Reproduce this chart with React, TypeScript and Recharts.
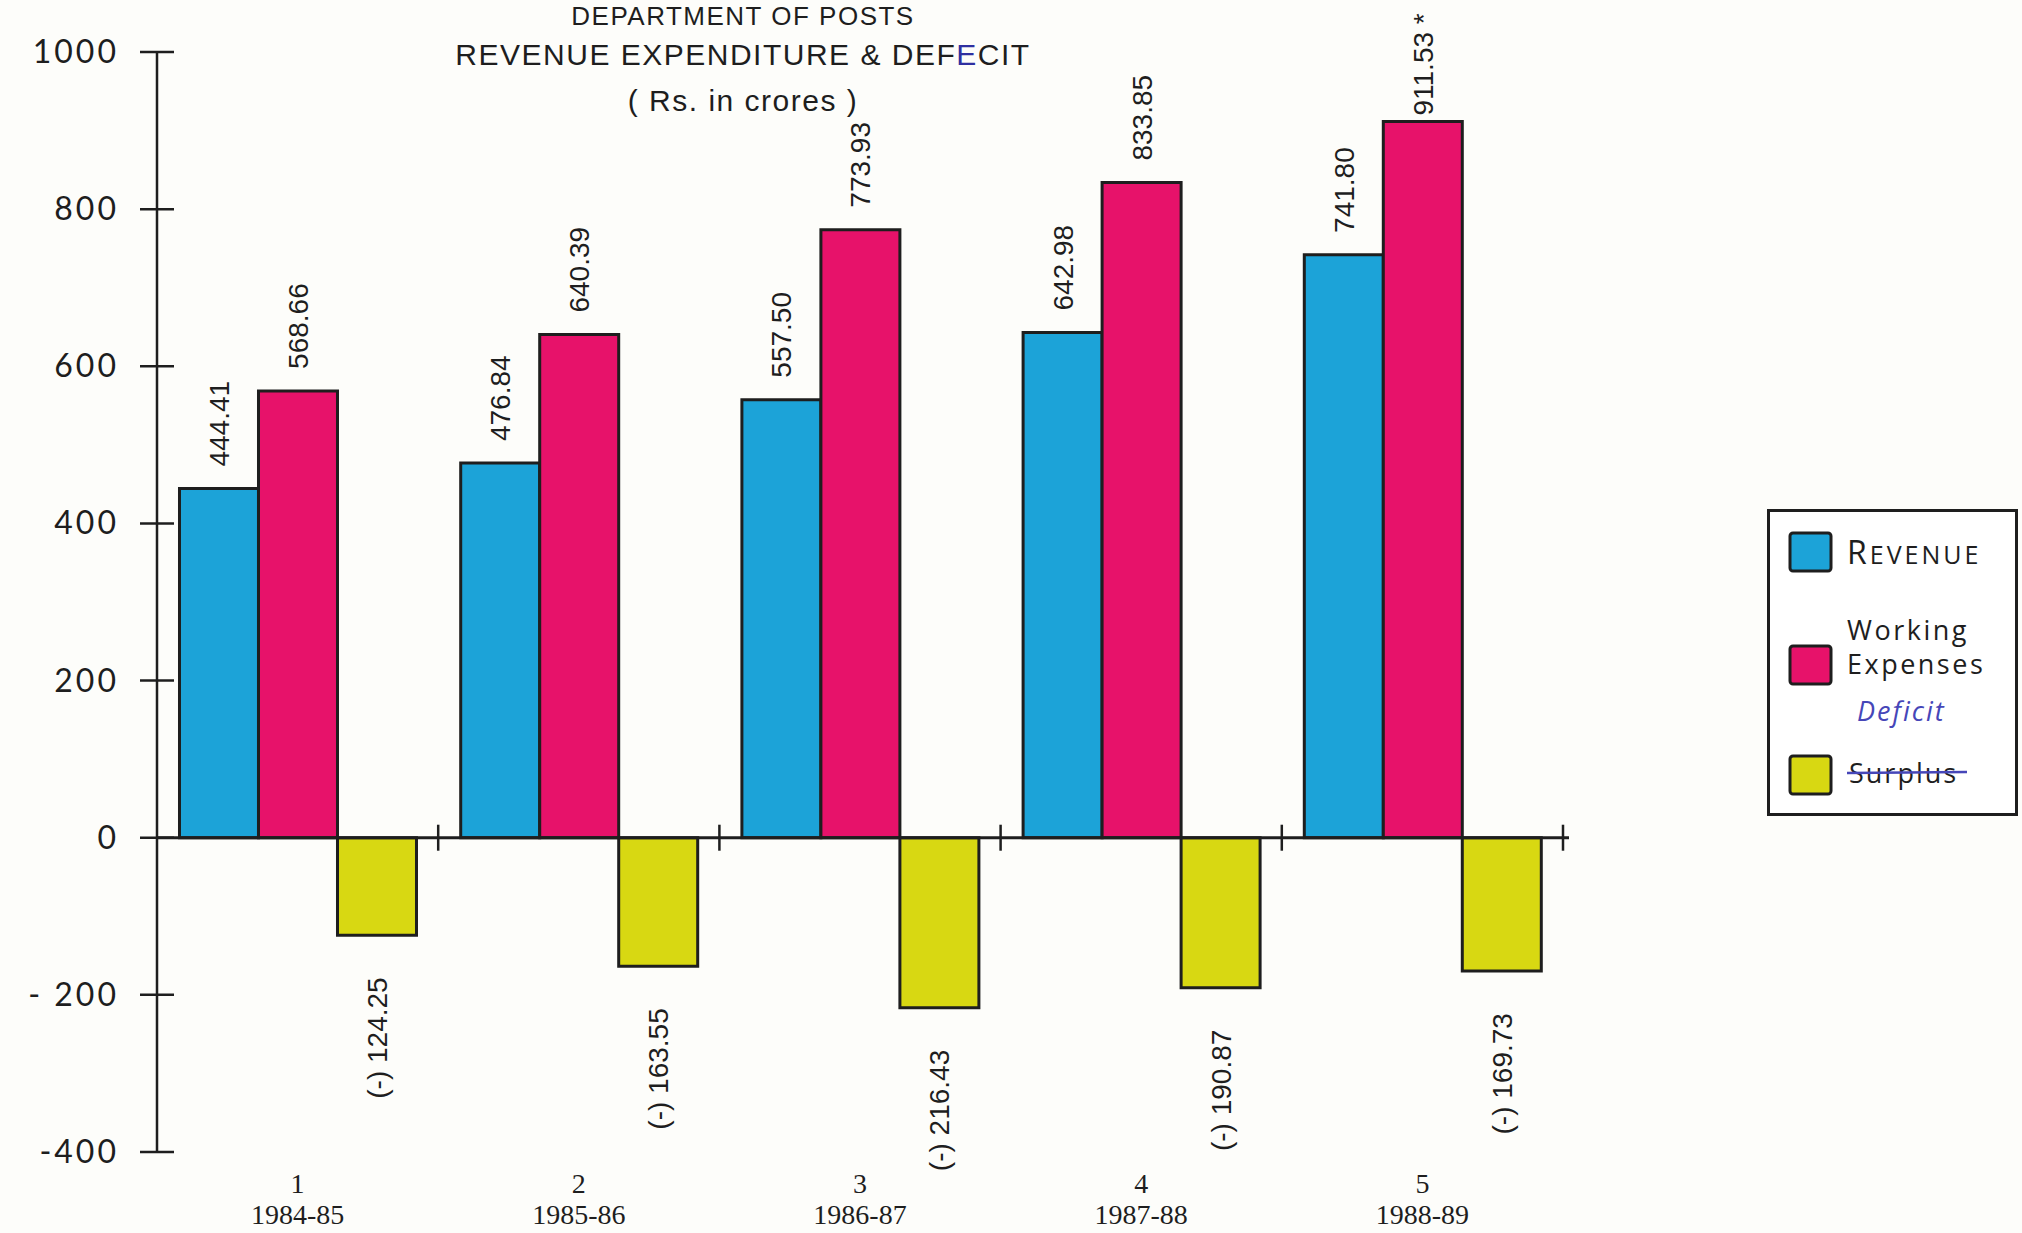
import React from "react";
import {
  BarChart,
  Bar,
  XAxis,
  YAxis,
  LabelList,
  ReferenceLine,
  Legend,
} from "recharts";

// Department of Posts - revenue, working expenses and deficit (Rs. in crores)
const periods = ["1984-85", "1985-86", "1986-87", "1987-88", "1988-89"];
const serialNos = ["1", "2", "3", "4", "5"];
const revenue = [444.41, 476.84, 557.5, 642.98, 741.8];
const workingExpenses = [568.66, 640.39, 773.93, 833.85, 911.53];
const expenseNotes = ["", "", "", "", " *"];
const deficit = [-124.25, -163.55, -216.43, -190.87, -169.73];

const yTicks = [-400, -200, 0, 200, 400, 600, 800, 1000];
const yTickLabels = ["-400", "- 200", "0", "200", "400", "600", "800", "1000"];

const BLUE = "#1ca3d8";
const PINK = "#e7126a";
const YELLOW = "#d8d812";
const INK = "#1e1e1e";
const seriesColors = [BLUE, PINK, YELLOW];

const data = periods.map((p, i) => ({
  period: p,
  serial: serialNos[i],
  revenue: revenue[i],
  expenses: workingExpenses[i],
  deficit: deficit[i],
}));

const LABEL_SIZE = 28;

function boxOf(props: any) {
  const vb = props.viewBox && props.viewBox.width !== undefined ? props.viewBox : props;
  const x = Number(vb.x), y = Number(vb.y), w = Number(vb.width), h = Number(vb.height);
  return { cx: x + w / 2, top: Math.min(y, y + h), bottom: Math.max(y, y + h) };
}

// value written upright (rotated) above a bar
function upLabel(props: any, notes?: string[]) {
  const { cx, top } = boxOf(props);
  const text = Number(props.value).toFixed(2) + (notes ? notes[props.index] || "" : "");
  const estLen = text.length * 0.5 * LABEL_SIZE;
  const gap = Math.max(6, Math.min(22, top - estLen - 4));
  const ay = top - gap;
  return (
    <text
      x={cx}
      y={ay}
      dy="0.36em"
      transform={`rotate(-90, ${cx}, ${ay})`}
      textAnchor="start"
      fontFamily="Liberation Sans"
      fontSize={LABEL_SIZE}
      fill={INK}
    >
      {text}
    </text>
  );
}

// deficit written below the yellow bar
function downLabel(props: any) {
  const { cx, bottom } = boxOf(props);
  const text = `(-)  ${Math.abs(Number(props.value)).toFixed(2)}`;
  const ay = bottom + 42;
  return (
    <text
      x={cx}
      y={ay}
      dy="0.36em"
      transform={`rotate(-90, ${cx}, ${ay})`}
      textAnchor="end"
      fontFamily="Liberation Sans"
      fontSize={LABEL_SIZE}
      fill={INK}
    >
      {text}
    </text>
  );
}

function YTick(props: any) {
  const { x, y, payload } = props;
  const label = yTickLabels[yTicks.indexOf(payload.value)];
  return (
    <g>
      <line x1={x - 17} x2={x + 17} y1={y} y2={y} stroke={INK} strokeWidth={2.5} />
      <text
        x={x - 38}
        y={y}
        dy={11}
        textAnchor="end"
        fontFamily="Lato"
        fontWeight={400}
        fontSize={32}
        letterSpacing={3}
        fill={INK}
      >
        {label}
      </text>
    </g>
  );
}

function XTick(props: any) {
  const { x, y, payload } = props;
  const row = data.find((d) => d.period === payload.value);
  return (
    <g fontFamily="Liberation Serif" fontSize={28} fill={INK}>
      <text x={x} y={y + 41} textAnchor="middle">
        {row ? row.serial : ""}
      </text>
      <text x={x} y={y + 72} textAnchor="middle">
        {payload.value}
      </text>
    </g>
  );
}

function ZeroLine(props: any) {
  const { x1, y1, x2 } = props;
  const step = (x2 - x1) / periods.length;
  return (
    <g>
      <line x1={x1} y1={y1} x2={x2 + 6} y2={y1} stroke={INK} strokeWidth={3} />
      {periods.map((p, i) => (
        <line
          key={p}
          x1={x1 + step * (i + 1)}
          x2={x1 + step * (i + 1)}
          y1={y1 - 13}
          y2={y1 + 13}
          stroke={INK}
          strokeWidth={2.5}
        />
      ))}
    </g>
  );
}

function LegendBox() {
  const sw = (i: number, y: number) => (
    <rect x={23} y={y} width={41} height={38} rx={3} fill={seriesColors[i]} stroke={INK} strokeWidth={3} />
  );
  const hand = { fontFamily: "Open Sans", fill: INK } as const;
  return (
    <svg width={251} height={307} style={{ display: "block" }}>
      <rect x={1.5} y={1.5} width={248} height={304} fill="#fff" stroke={INK} strokeWidth={3} />
      {sw(0, 24)}
      <text x={80} y={55} {...hand} fontSize={25} letterSpacing={3}>
        <tspan fontSize={32}>R</tspan>EVENUE
      </text>
      {sw(1, 137)}
      <text x={80} y={131} {...hand} fontSize={27} letterSpacing={2.5}>
        Working
      </text>
      <text x={80} y={165} {...hand} fontSize={27} letterSpacing={2.5}>
        Expenses
      </text>
      {sw(2, 247)}
      <text x={90} y={212} fontFamily="Open Sans" fontStyle="italic" fontSize={27} letterSpacing={2} fill="#4646b8">
        Deficit
      </text>
      <text x={82} y={274} {...hand} fontSize={27} letterSpacing={2}>
        Surplus
      </text>
      <line x1={80} x2={200} y1={264} y2={263} stroke="#4646b8" strokeWidth={2.5} />
    </svg>
  );
}

export default function App() {
  const titleStyle: React.CSSProperties = {
    position: "absolute",
    left: 443,
    width: 600,
    textAlign: "center",
    fontFamily: "Liberation Sans",
    fontSize: 30,
    lineHeight: "30px",
    letterSpacing: 1.5,
    color: INK,
    whiteSpace: "nowrap",
  };
  return (
    <div
      style={{
        position: "absolute",
        left: 0,
        top: 0,
        width: 2022,
        height: 1233,
        background: "#fdfdfa",
        overflow: "hidden",
      }}
    >
      <div style={{ ...titleStyle, top: 1, fontSize: 26 }}>DEPARTMENT OF POSTS</div>
      <div style={{ ...titleStyle, top: 40 }}>
        REVENUE EXPENDITURE &amp; DEF<span style={{ color: "#2f2fa0" }}>E</span>CIT
      </div>
      <div style={{ ...titleStyle, top: 86 }}>( Rs. in crores )</div>
      <BarChart
        width={2022}
        height={1233}
        data={data}
        margin={{ top: 52, right: 459, bottom: 11, left: 57 }}
        barCategoryGap="8%"
        barGap={0}
      >
        <XAxis
          dataKey="period"
          height={70}
          axisLine={false}
          tickLine={false}
          tickSize={0}
          tickMargin={0}
          tick={<XTick />}
          interval={0}
        />
        <YAxis
          width={100}
          domain={[-400, 1000]}
          ticks={yTicks}
          interval={0}
          tickLine={false}
          tickSize={0}
          tickMargin={0}
          axisLine={{ stroke: INK, strokeWidth: 2.5 }}
          tick={<YTick />}
        />
        <Legend
          layout="vertical"
          align="center"
          verticalAlign="middle"
          wrapperStyle={{ position: "absolute", left: 1767, top: 509, width: 251, height: 307 }}
          content={<LegendBox />}
        />
        <Bar dataKey="revenue" name="REVENUE" fill={BLUE} stroke={INK} strokeWidth={3} isAnimationActive={false}>
          <LabelList dataKey="revenue" content={(p: any) => upLabel(p)} />
        </Bar>
        <Bar dataKey="expenses" name="Working Expenses" fill={PINK} stroke={INK} strokeWidth={3} isAnimationActive={false}>
          <LabelList dataKey="expenses" content={(p: any) => upLabel(p, expenseNotes)} />
        </Bar>
        <Bar dataKey="deficit" name="Deficit" fill={YELLOW} stroke={INK} strokeWidth={3} isAnimationActive={false}>
          <LabelList dataKey="deficit" content={(p: any) => downLabel(p)} />
        </Bar>
        <ReferenceLine y={0} shape={(p: any) => <ZeroLine {...p} />} />
      </BarChart>
    </div>
  );
}
